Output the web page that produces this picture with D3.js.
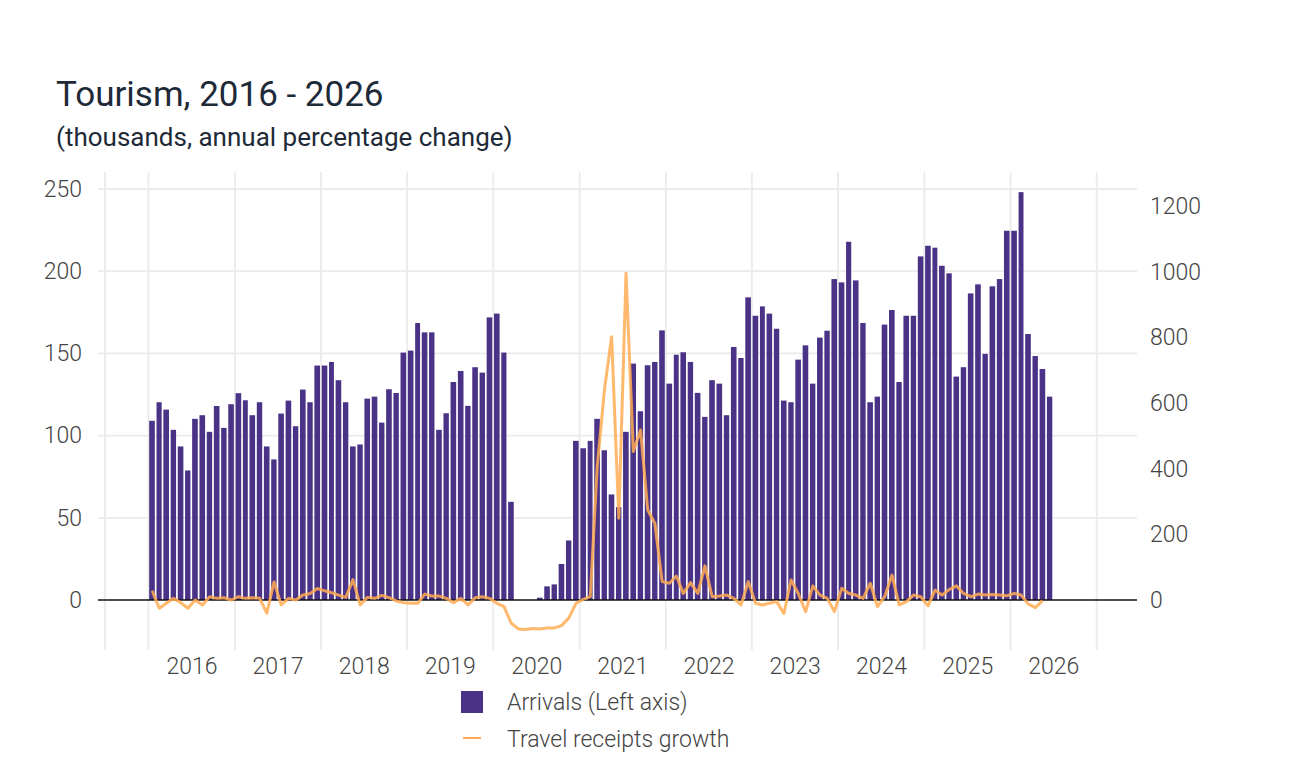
<!DOCTYPE html>
<html>
<head>
<meta charset="utf-8">
<script src="https://cdn.jsdelivr.net/npm/d3@7"></script>
<style>
  body { margin: 0; background: #fff; }
  svg { font-family: Roboto, "Noto Sans", sans-serif; }
</style>
</head>
<body>
<svg id="drawing_region"></svg>
<script>
// monthly arrivals, thousands (Jan 2016 - Jun 2026)
const arrivals = [
    109, 120.3, 115.8, 103.5, 93.4, 78.8, 110.2, 112.4, 102.3, 118, 104.7, 119.1,
    125.8, 121.5, 112.4, 120.3, 93.4, 85.5, 113.4, 121.3, 105.7, 128, 120.3, 142.6,
    142.6, 144.8, 133.7, 120.3, 93.4, 94.6, 122.5, 123.7, 107.9, 128.2, 125.9, 150.5,
    151.7, 168.5, 162.8, 162.8, 103.5, 113.6, 132.6, 139.3, 118.1, 141.6, 138.3, 171.9,
    174.2, 150.5, 59.7, 0, 0, 0, 1.4, 8.3, 9.5, 21.9, 36.2, 96.8,
    92.3, 96.8, 110.2, 91.1, 64.2, 56.5, 102.3, 143.8, 114.8, 142.8, 144.8, 164,
    131.6, 149.2, 150.7, 144.8, 126, 111.4, 133.7, 131.6, 112.4, 153.9, 147.2, 184.1,
    172.9, 178.6, 174.2, 165, 121.3, 120.3, 146.2, 154.9, 131.6, 159.6, 163.8, 195.2,
    193.2, 217.9, 194.4, 168.5, 120.3, 123.7, 167.5, 176.4, 132.6, 172.9, 172.9, 209,
    215.5, 214.3, 203.3, 198.7, 135.9, 141.6, 186.5, 192, 149.7, 190.8, 195.2, 224.6,
    224.6, 248.1, 161.8, 148.4, 140.5, 123.7
];

// travel receipts, annual % change (Jan 2016 - May 2026)
const receipts = [
    28, -25, -10, 5, -8, -25, 0, -15, 10, 5, 7, 0,
    10, 5, 7, 5, -40, 55, -15, 5, 0, 15, 20, 35,
    28, 22, 15, 8, 62, -15, 8, 5, 14, 7, -3, -8,
    -10, -10, 18, 12, 12, 5, -8, 5, -15, 7, 10, 5,
    -10, -20, -70, -88, -90, -87, -88, -85, -85, -78, -55, -10,
    2, 10, 406, 640, 802, 249, 995, 452, 518, 274, 233, 56,
    51, 73, 20, 53, 20, 104, 10, 12, 15, 5, -15, 56,
    -10, -15, -10, -5, -41, 61, 20, -36, 43, 15, 5, -35,
    36, 20, 15, 5, 51, -20, 10, 76, -15, -5, 15, 10,
    -18, 30, 15, 32, 43, 20, 10, 18, 15, 17, 15, 13,
    20, 15, -12, -23, -2
];

const years = [2016, 2017, 2018, 2019, 2020, 2021, 2022, 2023, 2024, 2025, 2026];
const left_ticks = [0, 50, 100, 150, 200, 250];
const right_ticks = [0, 200, 400, 600, 800, 1000, 1200];

const months = d3.utcMonth.range( new Date(Date.UTC(2016, 0, 1)), new Date(Date.UTC(2026, 6, 1)) );

class TourismChart {

    constructor( config ) {
        this.config = config;
        this.init();
    }

    init() {
        let self = this;

        self.svg = d3.select( self.config.parent )
            .attr('width', self.config.width)
            .attr('height', self.config.height);

        self.left = 98;
        self.right = 1137;
        self.top = 172;
        self.bottom = 650;

        self.xscale = d3.scaleUtc()
            .domain( [new Date(Date.UTC(2016, 0, 1)), new Date(Date.UTC(2027, 0, 1))] )
            .range( [148.5, 1096.7] );

        // left axis: 0 -> 600, 250 -> 189
        self.yscale = d3.scaleLinear()
            .domain( [0, 250] )
            .range( [600, 189] );

        // right axis: 0 -> 600, 1200 -> 206
        self.y2scale = d3.scaleLinear()
            .domain( [0, 1200] )
            .range( [600, 206] );
    }

    render() {
        let self = this;
        const grid = '#ebebeb';

        // horizontal grid
        self.svg.append('g')
            .selectAll('line')
            .data( left_ticks.filter( d => d != 0 ) )
            .join('line')
            .attr('x1', self.left).attr('x2', self.right)
            .attr('y1', d => self.yscale(d)).attr('y2', d => self.yscale(d))
            .attr('stroke', grid).attr('stroke-width', 1.8);

        // vertical grid (year starts + one half year before)
        const vgrid = [new Date(Date.UTC(2015, 6, 1))]
            .concat( years.concat([2027]).map( y => new Date(Date.UTC(y, 0, 1)) ) );
        self.svg.append('g')
            .selectAll('line')
            .data( vgrid )
            .join('line')
            .attr('x1', d => self.xscale(d)).attr('x2', d => self.xscale(d))
            .attr('y1', self.top).attr('y2', self.bottom)
            .attr('stroke', grid).attr('stroke-width', 1.8);

        // bars
        self.svg.append('g')
            .selectAll('rect')
            .data( arrivals )
            .join('rect')
            .attr('x', (d, i) => self.xscale( months[i] ) + 0.7)
            .attr('width', (d, i) => self.xscale( d3.utcMonth.offset(months[i], 1) ) - self.xscale( months[i] ) - 1.7)
            .attr('y', d => self.yscale(d))
            .attr('height', d => self.yscale(0) - self.yscale(d))
            .attr('fill', '#4a3287');

        // zero line
        self.svg.append('line')
            .attr('x1', self.left).attr('x2', self.right)
            .attr('y1', self.yscale(0)).attr('y2', self.yscale(0))
            .attr('stroke', '#111').attr('stroke-width', 1.3);

        // receipts line
        const mid = i => {
            const a = self.xscale( months[i] );
            const b = self.xscale( d3.utcMonth.offset(months[i], 1) );
            return (a + b) / 2;
        };
        const line = d3.line()
            .x( (d, i) => mid(i) )
            .y( d => self.y2scale(d) );
        self.svg.append('path')
            .datum( receipts )
            .attr('d', line)
            .attr('fill', 'none')
            .attr('stroke', '#ffab52')
            .attr('stroke-opacity', 0.85)
            .attr('stroke-width', 3)
            .attr('stroke-linejoin', 'round');

        // axes
        const yaxis = d3.axisLeft( self.yscale )
            .tickValues( left_ticks )
            .tickSize(0)
            .tickPadding(16);
        const y2axis = d3.axisRight( self.y2scale )
            .tickValues( right_ticks )
            .tickFormat( d3.format('d') )
            .tickSize(0)
            .tickPadding(13);
        const xaxis = d3.axisBottom( self.xscale )
            .tickValues( years.map( y => new Date(Date.UTC(y, 6, 1)) ) )
            .tickFormat( d3.utcFormat('%Y') )
            .tickSize(0)
            .tickPadding(8);

        const style_axis = g => {
            g.select('.domain').remove();
            g.selectAll('text')
                .attr('fill', '#444')
                .style('font-size', '23px')
                .style('font-weight', 300)
                .style('font-family', 'Roboto, sans-serif');
        };

        self.svg.append('g')
            .attr('transform', `translate(${self.left}, 0)`)
            .call( yaxis ).call( style_axis );
        self.svg.append('g')
            .attr('transform', `translate(${self.right}, 0)`)
            .call( y2axis ).call( style_axis );
        self.svg.append('g')
            .attr('transform', `translate(0, ${self.bottom})`)
            .call( xaxis ).call( style_axis );

        // title
        self.svg.append('text')
            .attr('x', 56).attr('y', 106)
            .attr('fill', '#1e2a38')
            .style('font-size', '35px')
            .text('Tourism, 2016 - 2026');
        self.svg.append('text')
            .attr('x', 56).attr('y', 146)
            .attr('fill', '#1e2a38')
            .style('font-size', '26px')
            .text('(thousands, annual percentage change)');

        // legend
        const legend = self.svg.append('g')
            .style('font-size', '23px')
            .style('font-weight', 300);
        legend.append('rect')
            .attr('x', 461).attr('y', 691)
            .attr('width', 22).attr('height', 22)
            .attr('fill', '#4a3287');
        legend.append('text')
            .attr('x', 507).attr('y', 702)
            .attr('dy', '0.35em')
            .attr('fill', '#444')
            .text('Arrivals (Left axis)');
        legend.append('line')
            .attr('x1', 463).attr('x2', 481)
            .attr('y1', 738).attr('y2', 738)
            .attr('stroke', '#ffab52')
            .attr('stroke-width', 2);
        legend.append('text')
            .attr('x', 507).attr('y', 739)
            .attr('dy', '0.35em')
            .attr('fill', '#444')
            .text('Travel receipts growth');
    }
}

const chart = new TourismChart({
    parent: '#drawing_region',
    width: 1300,
    height: 758
});
chart.render();
</script>
</body>
</html>
